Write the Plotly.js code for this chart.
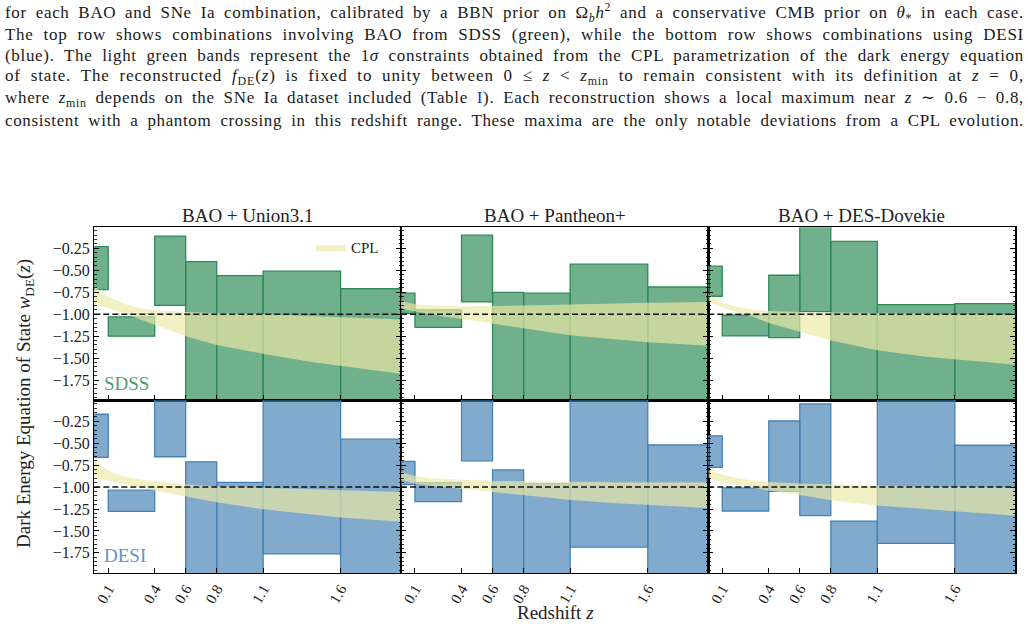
<!DOCTYPE html>
<html>
<head>
<meta charset="utf-8">
<script src="https://cdn.plot.ly/plotly-3.0.1.min.js"></script>
<style>html,body{margin:0;padding:0;background:#fff}</style>
</head>
<body>
<div id="chart" style="width:1028px;height:626px"></div>
<script>
// Redshift bins of the binned w(z) reconstruction
const binEdges = [0.01, 0.1, 0.4, 0.6, 0.8, 1.1, 1.6, 2.0];
const xTickVals = [0.1, 0.4, 0.6, 0.8, 1.1, 1.6];
const xTickText = ['0.1', '0.4', '0.6', '0.8', '1.1', '1.6'];
const yTickVals = [-1.75, -1.5, -1.25, -1.0, -0.75, -0.5, -0.25];
const yTickText = ['\u22121.75', '\u22121.50', '\u22121.25', '\u22121.00', '\u22120.75', '\u22120.50', '\u22120.25'];
const snLabels = ['BAO + Union3.1', 'BAO + Pantheon+', 'BAO + DES-Dovekie'];
const baoLabels = ['SDSS', 'DESI'];

// 1-sigma interval of w(z) in each bin (lower, upper)
const sdssUnionLo = [-0.72, -1.25, -0.90, -2.5, -2.5, -2.5, -2.5];
const sdssUnionHi = [-0.23, -1.03, -0.11, -0.40, -0.56, -0.51, -0.71];
const sdssPantheonLo = [-0.99, -1.15, -0.86, -2.5, -2.5, -2.5, -2.5];
const sdssPantheonHi = [-0.76, -0.95, -0.10, -0.75, -0.76, -0.43, -0.69];
const sdssDovekieLo = [-0.795, -1.247, -1.266, -0.97, -2.5, -2.5, -2.5];
const sdssDovekieHi = [-0.453, -1.01, -0.556, 0.3, -0.17, -0.89, -0.878];
const desiUnionLo = [-0.662, -1.277, -0.654, -2.5, -2.5, -1.762, -2.5];
const desiUnionHi = [-0.169, -1.035, 0.3, -0.712, -0.946, 0.3, -0.454];
const desiPantheonLo = [-0.972, -1.165, -0.70, -2.5, -2.5, -1.685, -2.5];
const desiPantheonHi = [-0.707, -0.95, 0.3, -0.804, -0.96, 0.3, -0.52];
const desiDovekieLo = [-0.776, -1.273, -1.05, -1.326, -2.5, -1.642, -2.5];
const desiDovekieHi = [-0.415, -1.01, -0.246, -0.05, -1.388, 0.3, -0.523];

// CPL 1-sigma band of w(z)
const cplZ = [0.01, 0.05, 0.1, 0.2, 0.3, 0.4, 0.6, 0.8, 1.1, 1.4, 1.6, 2.0];
const cplSdssUnionHi = [-0.67, -0.74, -0.80, -0.88, -0.93, -0.955, -0.975, -0.99, -1.00, -1.02, -1.03, -1.06];
const cplSdssUnionLo = [-0.88, -0.90, -0.93, -0.99, -1.05, -1.12, -1.25, -1.35, -1.45, -1.54, -1.59, -1.68];
const cplSdssPantheonHi = [-0.84, -0.865, -0.885, -0.90, -0.91, -0.912, -0.91, -0.90, -0.888, -0.875, -0.868, -0.86];
const cplSdssPantheonLo = [-0.93, -0.95, -0.97, -1.00, -1.03, -1.06, -1.11, -1.16, -1.24, -1.29, -1.32, -1.36];
const cplSdssDovekieHi = [-0.772, -0.82, -0.868, -0.92, -0.945, -0.962, -0.975, -0.98, -0.99, -1.0, -1.005, -1.01];
const cplSdssDovekieLo = [-0.86, -0.89, -0.92, -0.98, -1.03, -1.10, -1.20, -1.30, -1.41, -1.48, -1.515, -1.575];
const cplDesiUnionHi = [-0.69, -0.75, -0.81, -0.88, -0.91, -0.93, -0.97, -0.99, -1.008, -1.03, -1.04, -1.058];
const cplDesiUnionLo = [-0.89, -0.905, -0.92, -0.96, -1.00, -1.04, -1.108, -1.173, -1.254, -1.31, -1.346, -1.396];
const cplDesiPantheonHi = [-0.827, -0.85, -0.873, -0.90, -0.91, -0.915, -0.93, -0.935, -0.94, -0.944, -0.945, -0.946];
const cplDesiPantheonLo = [-0.92, -0.94, -0.96, -0.985, -1.005, -1.02, -1.058, -1.095, -1.146, -1.185, -1.204, -1.238];
const cplDesiDovekieHi = [-0.80, -0.83, -0.857, -0.90, -0.925, -0.942, -0.96, -0.97, -0.985, -0.995, -1.0, -1.005];
const cplDesiDovekieLo = [-0.90, -0.92, -0.94, -0.98, -1.01, -1.04, -1.09, -1.15, -1.21, -1.25, -1.277, -1.327];

const captionLines = [
  'for each BAO and SNe Ia combination, calibrated by a BBN prior on \u03a9<sub><i>b</i></sub><i>h</i><sup>2</sup> and a conservative CMB prior on <i>\u03b8</i><sub>*</sub> in each case.',
  'The top row shows combinations involving BAO from SDSS (green), while the bottom row shows combinations using DESI',
  '(blue). The light green bands represent the 1<i>\u03c3</i> constraints obtained from the CPL parametrization of the dark energy equation',
  'of state. The reconstructed <i>f</i><sub>DE</sub>(<i>z</i>) is fixed to unity between 0 \u2264 <i>z</i> &lt; <i>z</i><sub>min</sub> to remain consistent with its definition at <i>z</i> = 0,',
  'where <i>z</i><sub>min</sub> depends on the SNe Ia dataset included (Table <span style="color:#2b2bd9">I</span>). Each reconstruction shows a local maximum near <i>z</i> \u223c 0.6 \u2212 0.8,',
  'consistent with a phantom crossing in this redshift range. These maxima are the only notable deviations from a CPL evolution.'
];

const panels = [
  {lo: sdssUnionLo, hi: sdssUnionHi, bLo: cplSdssUnionLo, bHi: cplSdssUnionHi},
  {lo: sdssPantheonLo, hi: sdssPantheonHi, bLo: cplSdssPantheonLo, bHi: cplSdssPantheonHi},
  {lo: sdssDovekieLo, hi: sdssDovekieHi, bLo: cplSdssDovekieLo, bHi: cplSdssDovekieHi},
  {lo: desiUnionLo, hi: desiUnionHi, bLo: cplDesiUnionLo, bHi: cplDesiUnionHi},
  {lo: desiPantheonLo, hi: desiPantheonHi, bLo: cplDesiPantheonLo, bHi: cplDesiPantheonHi},
  {lo: desiDovekieLo, hi: desiDovekieHi, bLo: cplDesiDovekieLo, bHi: cplDesiDovekieHi}
];

const W = 1028, H = 626;
const SERIF = 'Liberation Serif, DejaVu Serif, serif';
const px = v => v / W;
const py = v => 1 - v / H;

const colDom = [[px(94.3), px(401)], [px(401), px(708.3)], [px(708.3), px(1015.3)]];
const rowDom = [[py(400.3), py(227.3)], [py(573), py(400.3)]];
const rowStyle = [
  {fill: 'rgba(46,139,87,0.68)', edge: 'rgb(46,139,87)', text: '#4c9f70'},
  {fill: 'rgba(70,130,180,0.68)', edge: 'rgb(70,130,180)', text: '#5f95c6'}
];
const bandColor = 'rgba(237,232,166,0.67)';

const centers = binEdges.slice(0, -1).map((e, i) => (e + binEdges[i + 1]) / 2);
const widths = binEdges.slice(0, -1).map((e, i) => binEdges[i + 1] - e);

const data = [];
const layout = {
  width: W, height: H,
  margin: {l: 0, r: 0, t: 0, b: 0},
  paper_bgcolor: '#fff', plot_bgcolor: 'rgba(0,0,0,0)',
  barmode: 'overlay',
  showlegend: true,
  legend: {x: px(311), y: py(231), xanchor: 'left', yanchor: 'top',
           bgcolor: 'rgba(0,0,0,0)', font: {family: SERIF, size: 15, color: '#222'},
           itemwidth: 30, tracegroupgap: 0},
  font: {family: SERIF, color: '#222'},
  shapes: [], annotations: []
};

panels.forEach((p, k) => {
  const row = Math.floor(k / 3), col = k % 3;
  const n = k + 1;
  const xa = 'x' + (n === 1 ? '' : n), ya = 'y' + (n === 1 ? '' : n);
  const st = rowStyle[row];

  data.push({
    type: 'bar', xaxis: xa, yaxis: ya,
    x: centers, width: widths, base: p.lo,
    y: p.hi.map((h, i) => h - p.lo[i]),
    marker: {color: st.fill, line: {color: st.edge, width: 1.3}},
    showlegend: false, hoverinfo: 'skip'
  });

  data.push({
    type: 'scatter', mode: 'lines', xaxis: xa, yaxis: ya,
    x: cplZ.concat(cplZ.slice().reverse()),
    y: p.bHi.concat(p.bLo.slice().reverse()),
    fill: 'toself', fillcolor: bandColor,
    line: {width: 0, color: bandColor},
    name: 'CPL', showlegend: k === 0, hoverinfo: 'skip'
  });

  layout['xaxis' + (n === 1 ? '' : n)] = {
    domain: colDom[col], anchor: ya, range: [0.01, 1.99],
    tickmode: 'array', tickvals: xTickVals, ticktext: xTickText,
    showticklabels: row === 1, tickangle: -60,
    tickfont: {family: SERIF, size: 15, color: '#222'},
    ticks: 'inside', ticklen: 5, tickwidth: 1, tickcolor: '#000',
    showline: true, linecolor: '#000', linewidth: 1.3, mirror: true,
    showgrid: false, zeroline: false, fixedrange: true
  };
  layout['yaxis' + (n === 1 ? '' : n)] = {
    domain: rowDom[row], anchor: xa, range: [-1.98, -0.01],
    tickmode: 'array', tickvals: yTickVals, ticktext: yTickText,
    showticklabels: col === 0,
    tickfont: {family: SERIF, size: 16, color: '#222'},
    ticks: 'inside', ticklen: 5, tickwidth: 1, tickcolor: '#000',
    minor: {dtick: 0.05, tick0: 0, ticks: 'inside', ticklen: 2.5, tickwidth: 0.8, tickcolor: '#000', showgrid: false},
    showline: true, linecolor: '#000', linewidth: 1.3, mirror: 'ticks',
    showgrid: false, zeroline: false, fixedrange: true
  };

  layout.shapes.push({
    type: 'line', xref: xa + ' domain', yref: ya,
    x0: 0, x1: 1, y0: -1, y1: -1,
    line: {color: '#111', width: 1.5, dash: '6px,3px'}, layer: 'above'
  });

  if (row === 0) {
    layout.annotations.push({
      xref: 'paper', yref: 'paper', x: (colDom[col][0] + colDom[col][1]) / 2, y: py(215),
      xanchor: 'center', yanchor: 'middle', showarrow: false,
      text: snLabels[col], font: {family: SERIF, size: 19, color: '#222'}
    });
  }
  if (col === 0) {
    layout.annotations.push({
      xref: xa + ' domain', yref: ya + ' domain', x: 0.025, y: 0.1,
      xanchor: 'left', yanchor: 'middle', showarrow: false,
      text: baoLabels[row], font: {family: SERIF, size: 19, color: st.text}
    });
  }
});

layout.annotations.push({
  xref: 'paper', yref: 'paper', x: px(25), y: py(404), textangle: -90,
  xanchor: 'center', yanchor: 'middle', showarrow: false,
  text: 'Dark Energy Equation of State <i>w</i><sub>DE</sub>(<i>z</i>)',
  font: {family: SERIF, size: 19, color: '#222'}
});
layout.annotations.push({
  xref: 'paper', yref: 'paper', x: px(555), y: py(612),
  xanchor: 'center', yanchor: 'middle', showarrow: false,
  text: 'Redshift <i>z</i>', font: {family: SERIF, size: 19, color: '#222'}
});

const captionStart = layout.annotations.length;
captionLines.forEach((t, i) => {
  layout.annotations.push({
    xref: 'paper', yref: 'paper', x: px(3), y: py(12.5 + 21.5 * i),
    xanchor: 'left', yanchor: 'middle', align: 'left', showarrow: false,
    text: t, font: {family: SERIF, size: 17, color: '#1a1a1a'}
  });
});

const gd = document.getElementById('chart');
Plotly.newPlot(gd, data, layout, {staticPlot: true, displayModeBar: false}).then(() => {
  // justify caption lines to the full page width: share the slack
  // between letter spacing and word spacing
  const target = 1022 - 3;
  gd.querySelectorAll('.annotation').forEach(g => {
    const idx = +g.getAttribute('data-index');
    if (idx < captionStart) return;
    const t = g.querySelector('text.annotation-text');
    if (!t) return;
    const txt = t.textContent;
    const w0 = t.getBBox().width;
    if (w0 >= target) return;
    const chars = txt.length;
    const ls = 0.5 * (target - w0) / chars;
    t.style.letterSpacing = ls.toFixed(3) + 'px';
    const w1 = t.getBBox().width;
    const spaces = (txt.match(/ /g) || []).length;
    if (spaces > 0 && w1 < target) {
      t.style.wordSpacing = ((target - w1) / spaces).toFixed(3) + 'px';
    }
  });
});
</script>
</body>
</html>
